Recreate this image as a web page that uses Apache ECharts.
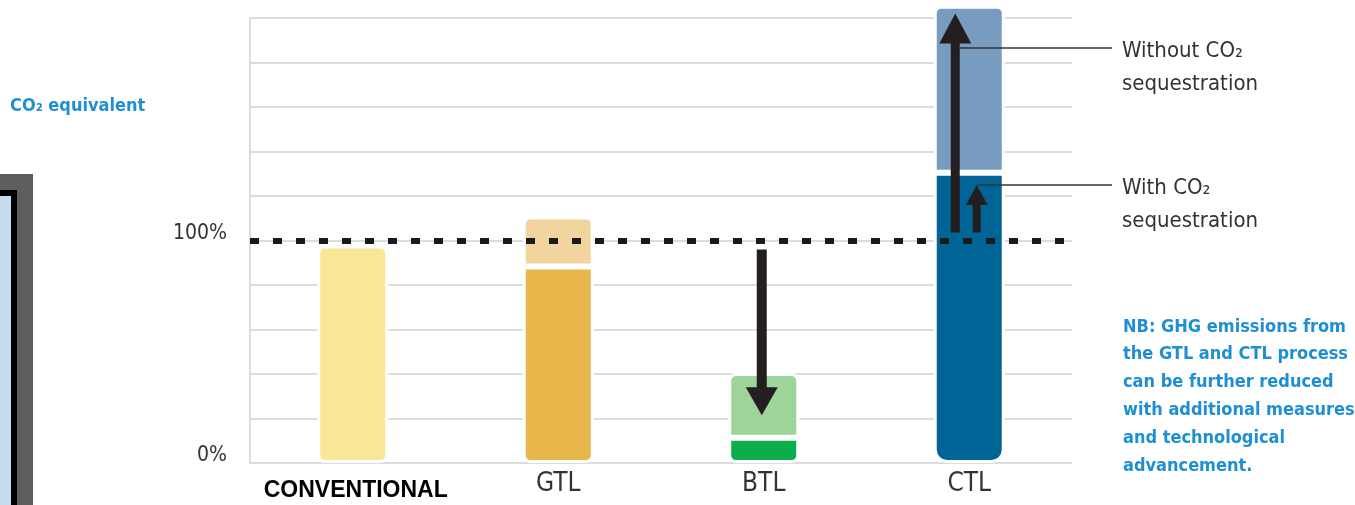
<!DOCTYPE html>
<html><head><meta charset="utf-8">
<script src="https://cdn.jsdelivr.net/npm/echarts@6/dist/echarts.min.js"></script>
<style>html,body{margin:0;padding:0;background:#fff}#c{width:1355px;height:505px}</style>
</head><body><div id="c"></div>
<script>
// ---- data ----
const categories = ['CONVENTIONAL', 'GTL', 'BTL', 'CTL'];
const baseValues = [97.8, 88.3, 11.4, 130.5];   // lower (dark) segment, % CO2 equivalent
const extraValues = ['-', 22.5, 29, 75];        // upper (light) segment
const referenceLevel = 100;
const yTickLabels = { 0: '0%', 100: '100%' };
const arrowData = [[2, 96, 21.5], [3, 103.6, 202], [3, 103.6, 125]]; // [category, from, to]
const annotationData = [[3, 186.5], [3, 125]];
const annotationLabels = ['Without CO₂\nsequestration', 'With CO₂\nsequestration'];
const unitText = 'CO₂ equivalent';
const noteLines = ['NB: GHG emissions from', 'the GTL and CTL process', 'can be further reduced',
  'with additional measures', 'and technological', 'advancement.'];

// ---- styles ----
const NARROW = "'DejaVu Sans Condensed',sans-serif";
const baseColors = ['#F9E697', '#E9B64B', '#0BAE4A', '#006497'];
const extraColors = ['#F9E697', '#F2D59E', '#9ED49A', '#789CC0'];
const baseRadius = [[6, 6, 6, 6], [0, 0, 6, 6], [0, 0, 6, 6], [0, 0, 12, 12]];
const arrowStyles = [
  { dx: -2, shaft: 10, head: 32, headLen: 28 },
  { dx: -14, shaft: 9, head: 32, headLen: 30 },
  { dx: 7.5, shaft: 8, head: 22, headLen: 20 }
];
const annoStyles = [{ dx: -9.5 }, { dx: 8 }];
const BLUE = '#1E8FD2';

const chart = echarts.init(document.getElementById('c'));
chart.setOption({
  animation: false,
  backgroundColor: '#fff',
  grid: { left: 250, right: 283, top: 18, bottom: 42, containLabel: false, outerBoundsMode: 'none' },
  xAxis: {
    type: 'category', data: categories,
    axisLine: { show: false }, axisTick: { show: false },
    axisLabel: {
      margin: 8,
      formatter: (v, i) => i === 0 ? '{conv|' + v + '}' : '{proc|' + v + '}',
      rich: {
        conv: { fontFamily: "'Liberation Sans',Arial,sans-serif", fontWeight: 'bold', fontSize: 23, color: '#000', padding: [8, 0, 0, 6] },
        proc: { fontFamily: NARROW, fontSize: 26, color: '#333' }
      }
    }
  },
  yAxis: {
    type: 'value', min: 0, max: 200, interval: 20,
    axisLine: { show: true, lineStyle: { color: '#d0d0d0', width: 1.5 } },
    axisTick: { show: false },
    splitLine: { lineStyle: { color: '#d0d0d0', width: 1.5 } },
    axisLabel: {
      margin: 23, fontFamily: NARROW, fontSize: 21, color: '#333',
      verticalAlign: 'bottom', lineHeight: 14,
      formatter: v => yTickLabels[v] || ''
    }
  },
  graphic: [
    { type: 'rect', left: 0, top: 174, shape: { width: 33, height: 331 }, style: { fill: '#5e5e5e' } },
    { type: 'rect', left: 0, top: 190, shape: { width: 17, height: 315 }, style: { fill: '#000' } },
    { type: 'rect', left: 0, top: 196, shape: { width: 11, height: 309 }, style: { fill: '#C6DBEC' } },
    { type: 'text', left: 10, top: 97, style: { text: unitText, fill: BLUE, font: "bold 18px " + NARROW } },
    { type: 'text', left: 1123, top: 313, style: { text: noteLines.join('\n'), fill: BLUE, font: "bold 18px " + NARROW, lineHeight: 27.8 } }
  ],
  series: [
    {
      type: 'bar', stack: 's', barWidth: 71, clip: false,
      itemStyle: { borderColor: '#fff', borderWidth: 3 },
      data: baseValues.map((v, i) => ({ value: v, itemStyle: { color: baseColors[i], borderRadius: baseRadius[i] } })),
      markLine: {
        silent: true, symbol: 'none', z: 6,
        label: { show: false },
        lineStyle: { color: '#1a1a1a', width: 6, type: [9, 14] },
        data: [{ yAxis: referenceLevel }]
      }
    },
    {
      type: 'bar', stack: 's', barWidth: 71, clip: false,
      itemStyle: { borderColor: '#fff', borderWidth: 3 },
      data: extraValues.map((v, i) => ({ value: v, itemStyle: { color: extraColors[i], borderRadius: [6, 6, 0, 0] } }))
    },
    {
      type: 'custom', z: 10, clip: false, silent: true,
      encode: { x: 0, y: [1, 2] },
      data: arrowData,
      renderItem(params, api) {
        const st = arrowStyles[params.dataIndex];
        const p0 = api.coord([api.value(0), api.value(1)]);
        const p1 = api.coord([api.value(0), api.value(2)]);
        const x = p0[0] + st.dx, y0 = p0[1], y1 = p1[1];
        const dir = y1 < y0 ? -1 : 1;
        const yb = y1 - dir * st.headLen;
        const hs = st.shaft / 2, hh = st.head / 2;
        return {
          type: 'polygon',
          shape: { points: [[x - hs, y0], [x + hs, y0], [x + hs, yb], [x + hh, yb], [x, y1], [x - hh, yb], [x - hs, yb]] },
          style: { fill: '#231F20' }
        };
      }
    },
    {
      type: 'custom', z: 11, clip: false, silent: true,
      encode: { x: 0, y: 1 },
      data: annotationData,
      renderItem(params, api) {
        const i = params.dataIndex;
        const p = api.coord([api.value(0), api.value(1)]);
        const cs = params.coordSys;
        const xr = cs.x + cs.width;
        return {
          type: 'group', children: [
            { type: 'line', shape: { x1: p[0] + annoStyles[i].dx, y1: p[1], x2: xr + 40, y2: p[1] }, style: { stroke: '#333', lineWidth: 1.5 } },
            { type: 'text', style: { text: annotationLabels[i], x: xr + 50, y: p[1] - 13, fill: '#333', font: "22px " + NARROW, lineHeight: 33, verticalAlign: 'top' } }
          ]
        };
      }
    }
  ]
});
</script>
</body></html>
